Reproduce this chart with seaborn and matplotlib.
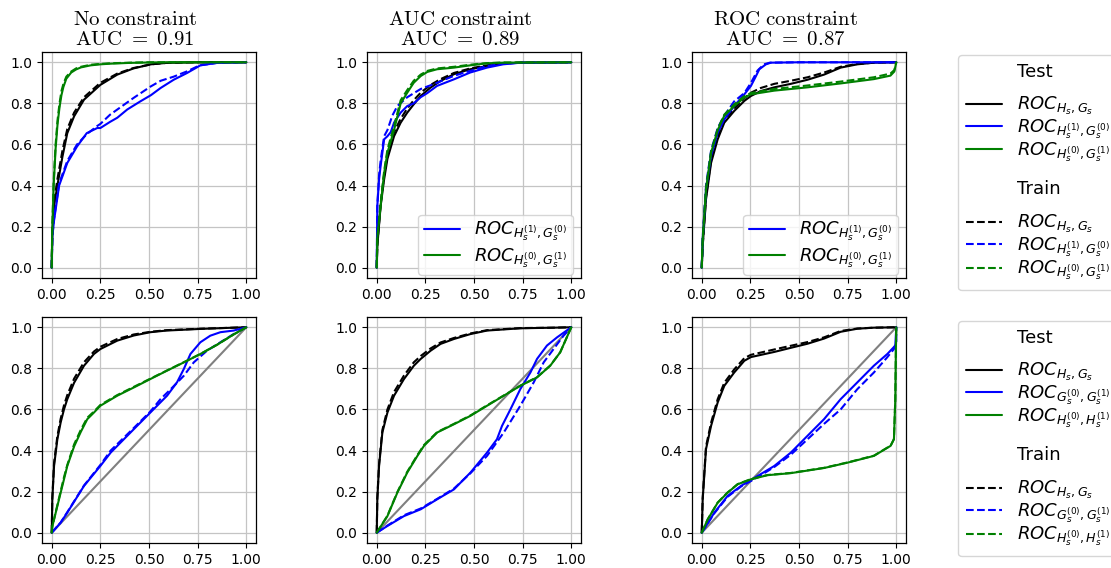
import matplotlib
matplotlib.use("Agg")
import matplotlib.pyplot as plt
from matplotlib.lines import Line2D
import seaborn as sns

# ---------------- data (fpr, tpr) ----------------
titles = ["No constraint", "AUC constraint", "ROC constraint"]
aucs = ["0.91", "0.89", "0.87"]

top_labels = [r"$ROC_{H_s,G_s}$", r"$ROC_{H_s^{(1)},G_s^{(0)}}$", r"$ROC_{H_s^{(0)},G_s^{(1)}}$"]
bot_labels = [r"$ROC_{H_s,G_s}$", r"$ROC_{G_s^{(0)},G_s^{(1)}}$", r"$ROC_{H_s^{(0)},H_s^{(1)}}$"]
group_names = ["Test", "Train"]
series_colors = ["black", "blue", "green"]

# panel 1: no constraint, top
p1_black_test = [(0,0),(0.003,0.17),(0.012,0.30),(0.029,0.40),(0.055,0.54),(0.08,0.655),(0.115,0.737),(0.166,0.818),(0.25,0.89),(0.337,0.94),(0.42,0.97),(0.51,0.99),(0.59,0.997),(0.75,1.0),(1,1)]
p1_black_train = [(0,0),(0.003,0.18),(0.012,0.32),(0.029,0.43),(0.055,0.57),(0.08,0.675),(0.115,0.755),(0.166,0.83),(0.25,0.90),(0.337,0.945),(0.42,0.972),(0.51,0.99),(0.59,0.997),(0.75,1.0),(1,1)]
p1_blue_test = [(0,0),(0.003,0.15),(0.012,0.23),(0.038,0.40),(0.08,0.51),(0.13,0.59),(0.18,0.655),(0.234,0.68),(0.25,0.68),(0.30,0.71),(0.337,0.73),(0.388,0.77),(0.456,0.81),(0.51,0.84),(0.56,0.875),(0.627,0.915),(0.696,0.948),(0.764,0.985),(0.85,0.997),(1,1)]
p1_blue_train = [(0,0),(0.003,0.15),(0.012,0.24),(0.038,0.41),(0.08,0.52),(0.13,0.60),(0.18,0.65),(0.234,0.69),(0.25,0.70),(0.30,0.745),(0.337,0.77),(0.42,0.826),(0.51,0.883),(0.56,0.91),(0.627,0.93),(0.696,0.956),(0.76,0.985),(0.85,0.997),(1,1)]
p1_green_test = [(0,0),(0.002,0.15),(0.005,0.25),(0.01,0.40),(0.02,0.58),(0.03,0.70),(0.04,0.78),(0.05,0.84),(0.06,0.88),(0.075,0.92),(0.1,0.95),(0.125,0.965),(0.15,0.975),(0.2,0.985),(0.25,0.99),(0.3,0.993),(0.4,0.997),(0.5,0.999),(0.6,1),(1,1)]
p1_green_train = [(0,0),(0.002,0.16),(0.005,0.27),(0.01,0.42),(0.02,0.60),(0.03,0.72),(0.04,0.80),(0.05,0.86),(0.06,0.895),(0.075,0.93),(0.1,0.955),(0.125,0.97),(0.15,0.978),(0.2,0.988),(0.25,0.992),(0.3,0.995),(0.4,0.998),(0.5,1),(1,1)]

# panel 2: AUC constraint, top
p2_black_test = [(0,0),(0.003,0.105),(0.02,0.30),(0.038,0.43),(0.055,0.53),(0.089,0.64),(0.123,0.706),(0.157,0.755),(0.19,0.795),(0.226,0.836),(0.277,0.877),(0.328,0.909),(0.397,0.942),(0.48,0.966),(0.567,0.982),(0.65,0.994),(0.74,0.998),(1,1)]
p2_black_train = [(0,0),(0.003,0.11),(0.02,0.31),(0.038,0.45),(0.055,0.55),(0.089,0.66),(0.123,0.725),(0.157,0.775),(0.19,0.815),(0.226,0.852),(0.277,0.89),(0.328,0.918),(0.397,0.948),(0.48,0.97),(0.567,0.985),(0.65,0.995),(0.74,0.998),(1,1)]
p2_blue_test = [(0,0),(0.003,0.30),(0.012,0.43),(0.02,0.495),(0.038,0.625),(0.055,0.64),(0.072,0.66),(0.089,0.706),(0.123,0.755),(0.157,0.787),(0.19,0.80),(0.226,0.83),(0.26,0.85),(0.31,0.885),(0.397,0.917),(0.48,0.95),(0.567,0.974),(0.65,0.99),(0.74,0.998),(1,1)]
p2_blue_train = [(0,0),(0.003,0.30),(0.012,0.45),(0.02,0.52),(0.038,0.64),(0.055,0.67),(0.08,0.74),(0.106,0.787),(0.157,0.83),(0.226,0.87),(0.31,0.90),(0.397,0.934),(0.48,0.958),(0.567,0.982),(0.65,0.993),(0.74,0.998),(1,1)]
p2_green_test = [(0,0),(0.003,0.14),(0.02,0.30),(0.038,0.46),(0.055,0.56),(0.089,0.67),(0.123,0.80),(0.157,0.852),(0.19,0.90),(0.226,0.933),(0.26,0.953),(0.31,0.966),(0.397,0.974),(0.48,0.985),(0.567,0.995),(0.65,0.998),(1,1)]
p2_green_train = [(0,0),(0.003,0.15),(0.02,0.31),(0.038,0.47),(0.055,0.575),(0.089,0.69),(0.123,0.815),(0.157,0.865),(0.19,0.91),(0.226,0.94),(0.26,0.958),(0.31,0.97),(0.397,0.978),(0.48,0.988),(0.567,0.996),(0.65,0.999),(1,1)]

# panel 3: ROC constraint, top
p3_black_test = [(0,0),(0.005,0.105),(0.022,0.333),(0.048,0.51),(0.082,0.625),(0.116,0.706),(0.167,0.763),(0.219,0.812),(0.253,0.836),(0.304,0.86),(0.373,0.878),(0.458,0.895),(0.544,0.915),(0.629,0.94),(0.714,0.974),(0.80,0.99),(0.885,0.998),(1,1)]
p3_black_train = [(0,0),(0.005,0.11),(0.022,0.345),(0.048,0.525),(0.082,0.64),(0.116,0.72),(0.167,0.775),(0.219,0.825),(0.253,0.852),(0.304,0.875),(0.373,0.895),(0.458,0.91),(0.544,0.927),(0.629,0.95),(0.714,0.978),(0.80,0.992),(0.885,0.998),(1,1)]
p3_blue_test = [(0,0),(0.005,0.14),(0.022,0.38),(0.048,0.545),(0.082,0.657),(0.116,0.722),(0.167,0.787),(0.219,0.844),(0.253,0.885),(0.279,0.933),(0.296,0.966),(0.33,0.99),(0.355,0.998),(0.5,1),(1,1)]
p3_blue_train = [(0,0),(0.005,0.15),(0.022,0.40),(0.048,0.57),(0.082,0.68),(0.116,0.74),(0.167,0.81),(0.219,0.85),(0.253,0.90),(0.287,0.96),(0.32,0.99),(0.35,0.998),(0.5,1),(1,1)]
p3_green_test = [(0,0),(0.005,0.14),(0.022,0.38),(0.048,0.56),(0.082,0.67),(0.116,0.74),(0.167,0.787),(0.219,0.828),(0.253,0.844),(0.373,0.862),(0.544,0.878),(0.714,0.897),(0.885,0.918),(0.97,0.935),(0.99,0.955),(1,1)]
p3_green_train = [(0,0),(0.005,0.14),(0.022,0.385),(0.048,0.565),(0.082,0.675),(0.116,0.745),(0.167,0.795),(0.219,0.835),(0.253,0.85),(0.373,0.87),(0.544,0.887),(0.714,0.906),(0.885,0.927),(0.97,0.945),(0.99,0.962),(1,1)]

# panel 4: no constraint, bottom
p4_black_test = [(0,0),(0.003,0.163),(0.012,0.325),(0.029,0.455),(0.046,0.537),(0.063,0.60),(0.08,0.65),(0.115,0.73),(0.166,0.813),(0.217,0.87),(0.25,0.894),(0.337,0.935),(0.422,0.96),(0.507,0.976),(0.59,0.984),(0.764,0.992),(0.935,0.998),(1,1)]
p4_black_train = [(0,0),(0.003,0.17),(0.012,0.34),(0.029,0.47),(0.046,0.555),(0.063,0.62),(0.08,0.67),(0.115,0.75),(0.166,0.83),(0.217,0.882),(0.25,0.905),(0.337,0.943),(0.422,0.965),(0.507,0.978),(0.59,0.986),(0.764,0.993),(0.935,0.998),(1,1)]
p4_blue_test = [(0,0),(0.046,0.049),(0.08,0.098),(0.166,0.228),(0.25,0.325),(0.303,0.39),(0.422,0.504),(0.507,0.585),(0.593,0.667),(0.644,0.732),(0.679,0.797),(0.713,0.87),(0.764,0.927),(0.815,0.959),(0.867,0.976),(0.935,0.984),(1,1)]
p4_blue_train = [(0,0),(0.046,0.05),(0.08,0.10),(0.166,0.23),(0.25,0.33),(0.303,0.40),(0.422,0.51),(0.507,0.59),(0.559,0.65),(0.613,0.70),(0.679,0.764),(0.73,0.829),(0.798,0.886),(0.867,0.927),(0.935,0.967),(1,1)]
p4_green_test = [(0,0),(0.003,0.03),(0.029,0.13),(0.063,0.26),(0.08,0.325),(0.115,0.42),(0.149,0.49),(0.183,0.553),(0.217,0.585),(0.25,0.618),(0.337,0.667),(0.422,0.707),(0.507,0.748),(0.593,0.789),(0.679,0.829),(0.764,0.87),(0.85,0.915),(0.935,0.965),(1,1)]
p4_green_train = [(0,0),(0.003,0.03),(0.029,0.135),(0.063,0.27),(0.08,0.33),(0.115,0.43),(0.149,0.50),(0.183,0.56),(0.217,0.59),(0.25,0.622),(0.337,0.67),(0.422,0.71),(0.507,0.75),(0.593,0.79),(0.679,0.83),(0.764,0.87),(0.85,0.915),(0.935,0.965),(1,1)]

# panel 5: AUC constraint, bottom
p5_black_test = [(0,0),(0.003,0.163),(0.012,0.325),(0.029,0.488),(0.055,0.585),(0.089,0.667),(0.14,0.748),(0.191,0.813),(0.226,0.846),(0.277,0.886),(0.328,0.919),(0.397,0.943),(0.482,0.967),(0.567,0.984),(0.738,0.995),(0.909,0.998),(1,1)]
p5_black_train = [(0,0),(0.003,0.17),(0.012,0.335),(0.029,0.50),(0.055,0.60),(0.089,0.685),(0.14,0.765),(0.191,0.83),(0.226,0.86),(0.277,0.897),(0.328,0.926),(0.397,0.948),(0.482,0.97),(0.567,0.986),(0.738,0.996),(0.909,0.998),(1,1)]
p5_blue_test = [(0,0),(0.055,0.033),(0.14,0.081),(0.226,0.114),(0.311,0.163),(0.397,0.211),(0.482,0.293),(0.567,0.39),(0.618,0.455),(0.644,0.52),(0.687,0.60),(0.738,0.699),(0.79,0.78),(0.824,0.846),(0.875,0.911),(0.927,0.951),(1,1)]
p5_blue_train = [(0,0),(0.055,0.035),(0.14,0.085),(0.226,0.118),(0.311,0.165),(0.397,0.215),(0.482,0.29),(0.567,0.374),(0.653,0.488),(0.738,0.618),(0.807,0.732),(0.858,0.829),(0.909,0.894),(0.96,0.959),(1,1)]
p5_green_test = [(0,0),(0.055,0.081),(0.106,0.195),(0.157,0.293),(0.209,0.374),(0.243,0.423),(0.311,0.488),(0.397,0.528),(0.482,0.569),(0.567,0.618),(0.653,0.667),(0.738,0.715),(0.824,0.756),(0.892,0.813),(0.943,0.878),(1,1)]
p5_green_train = [(0,0),(0.055,0.083),(0.106,0.198),(0.157,0.297),(0.209,0.378),(0.243,0.427),(0.311,0.49),(0.397,0.53),(0.482,0.571),(0.567,0.62),(0.653,0.668),(0.738,0.716),(0.824,0.757),(0.892,0.814),(0.943,0.878),(1,1)]

# panel 6: ROC constraint, bottom
p6_black_test = [(0,0),(0.005,0.163),(0.022,0.407),(0.048,0.52),(0.082,0.634),(0.116,0.715),(0.167,0.78),(0.219,0.837),(0.253,0.855),(0.373,0.88),(0.458,0.90),(0.544,0.92),(0.629,0.945),(0.714,0.978),(0.80,0.993),(0.885,0.998),(1,1)]
p6_black_train = [(0,0),(0.005,0.17),(0.022,0.42),(0.048,0.535),(0.082,0.65),(0.116,0.73),(0.167,0.795),(0.219,0.85),(0.253,0.866),(0.373,0.892),(0.458,0.91),(0.544,0.928),(0.629,0.951),(0.714,0.982),(0.80,0.994),(0.885,0.998),(1,1)]
p6_blue_test = [(0,0),(0.065,0.098),(0.133,0.179),(0.202,0.228),(0.287,0.276),(0.373,0.325),(0.458,0.39),(0.544,0.472),(0.629,0.553),(0.714,0.65),(0.80,0.732),(0.885,0.813),(0.954,0.87),(0.995,0.911),(1,1)]
p6_blue_train = [(0,0),(0.065,0.095),(0.133,0.175),(0.202,0.225),(0.287,0.27),(0.373,0.32),(0.458,0.38),(0.544,0.455),(0.629,0.53),(0.714,0.60),(0.80,0.699),(0.885,0.78),(0.95,0.85),(0.988,0.894),(1,0.93),(1,1)]
p6_green_test = [(0,0),(0.031,0.065),(0.082,0.146),(0.133,0.195),(0.185,0.236),(0.253,0.26),(0.338,0.28),(0.458,0.29),(0.629,0.315),(0.749,0.341),(0.885,0.374),(0.971,0.423),(0.988,0.455),(0.995,0.65),(0.998,0.894),(1,1)]
p6_green_train = [(0,0),(0.031,0.066),(0.082,0.147),(0.133,0.196),(0.185,0.237),(0.253,0.261),(0.338,0.281),(0.458,0.291),(0.629,0.316),(0.749,0.342),(0.885,0.375),(0.971,0.424),(0.988,0.456),(0.995,0.65),(0.998,0.894),(1,1)]

diagonal = [(0,0),(1,1)]

panels = [
    [(p1_black_test, p1_black_train), (p1_blue_test, p1_blue_train), (p1_green_test, p1_green_train)],
    [(p2_black_test, p2_black_train), (p2_blue_test, p2_blue_train), (p2_green_test, p2_green_train)],
    [(p3_black_test, p3_black_train), (p3_blue_test, p3_blue_train), (p3_green_test, p3_green_train)],
    [(p4_black_test, p4_black_train), (p4_blue_test, p4_blue_train), (p4_green_test, p4_green_train)],
    [(p5_black_test, p5_black_train), (p5_blue_test, p5_blue_train), (p5_green_test, p5_green_train)],
    [(p6_black_test, p6_black_train), (p6_blue_test, p6_blue_train), (p6_green_test, p6_green_train)],
]

x_ticks = [0, 0.25, 0.5, 0.75, 1.0]
y_ticks = [0, 0.2, 0.4, 0.6, 0.8, 1.0]

# ---------------- style ----------------
sns.set_style("ticks", {"axes.grid": True, "grid.color": "#c4c4c4",
                        "axes.edgecolor": "black", "xtick.color": "black",
                        "ytick.color": "black", "text.color": "black"})
plt.rcParams["font.family"] = ["DejaVu Sans"]

W, H = 1111, 568
fig = plt.figure(figsize=(W / 100, H / 100), dpi=100)

col_left = [42, 367, 692]
ax_w = 214
row_top = [52, 317]
ax_h = 226

LW = 1.5
LEG_FS = 13
axes = []
for r in range(2):
    for c in range(3):
        ax = fig.add_axes([col_left[c] / W, 1 - (row_top[r] + ax_h) / H, ax_w / W, ax_h / H])
        axes.append(ax)
        idx = r * 3 + c
        if r == 1:
            sns.lineplot(x=[p[0] for p in diagonal], y=[p[1] for p in diagonal], ax=ax,
                         color="gray", linewidth=LW, sort=False, estimator=None)
        for s, (test, train) in enumerate(panels[idx]):
            col = series_colors[s]
            sns.lineplot(x=[p[0] for p in test], y=[p[1] for p in test], ax=ax,
                         color=col, linewidth=LW, linestyle="-", sort=False, estimator=None)
            sns.lineplot(x=[p[0] for p in train], y=[p[1] for p in train], ax=ax,
                         color=col, linewidth=LW, linestyle="--", sort=False, estimator=None)
        ax.set_xlim(-0.05, 1.05)
        ax.set_ylim(-0.05, 1.05)
        ax.set_xticks(x_ticks)
        ax.set_xticklabels([f"{v:.2f}" for v in x_ticks])
        ax.set_yticks(y_ticks)
        ax.set_yticklabels([f"{v:.1f}" for v in y_ticks])
        ax.tick_params(labelsize=10, length=3.5, width=0.8)
        ax.set_xlabel("")
        ax.set_ylabel("")
        for sp in ax.spines.values():
            sp.set_linewidth(0.9)
            sp.set_color("black")
        ax.grid(True, color="#c4c4c4", linewidth=0.9)
        if r == 0:
            ttl = (r"$\mathrm{" + titles[c].replace(" ", r"\ ") + "}$\n"
                   + r"$\mathrm{AUC}\ =\ " + aucs[c] + "$")
            ax.set_title(ttl, fontsize=15, math_fontfamily="cm", pad=5, linespacing=1.0,
                         x=0.5 - 14 / ax_w)
        if r == 0 and c > 0:
            hs = [Line2D([], [], color=series_colors[1], lw=LW),
                  Line2D([], [], color=series_colors[2], lw=LW)]
            ax.legend(hs, top_labels[1:], loc="lower right", fontsize=LEG_FS,
                      labelspacing=0.15, borderpad=0.3, borderaxespad=0,
                      bbox_to_anchor=(0.962, 0.013))

def make_fig_legend(labels, top_px):
    blank = Line2D([], [], color="none")
    hs = [blank] + [Line2D([], [], color=c, lw=LW) for c in series_colors] + \
         [blank] + [Line2D([], [], color=c, lw=LW, ls="--") for c in series_colors]
    ls = [group_names[0] + "\n"] + labels + ["\n" + group_names[1] + "\n"] + labels
    leg = fig.legend(hs, ls, loc="upper left", bbox_to_anchor=(958 / W, 1 - top_px / H),
                     bbox_transform=fig.transFigure, borderaxespad=0, fontsize=LEG_FS,
                     labelspacing=0.0, borderpad=0.45)
    txts = leg.get_texts()
    txts[0].set_linespacing(0.72)
    txts[4].set_linespacing(0.82)

make_fig_legend(top_labels, 55)
make_fig_legend(bot_labels, 321)

fig.savefig("out.png", dpi=100)
